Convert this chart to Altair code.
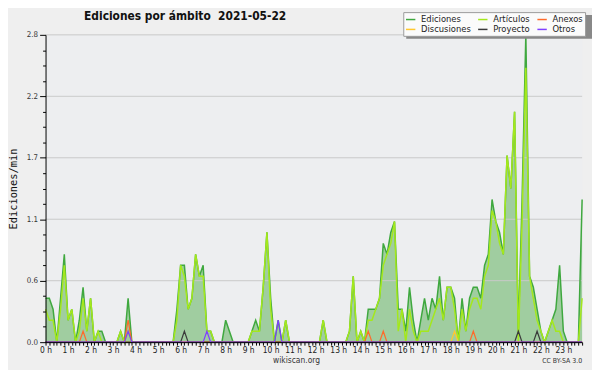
import json
import altair as alt
import pandas as pd

N = 144  # 10-minute bins, index 0..143

hour_labels = [f"{h} h" for h in range(24)]

# Ediciones por minuto (total), 10-minute bins
ediciones = [
    0.4, 0.4, 0.3, 0.0, 0.4, 0.8,   # 0 h
    0.2, 0.3, 0.0, 0.2, 0.5, 0.1,   # 1 h
    0.4, 0.0, 0.1, 0.1, 0.0, 0.0,   # 2 h
    0.0, 0.0, 0.1, 0.0, 0.4, 0.0,   # 3 h
    0.0, 0.0, 0.0, 0.0, 0.0, 0.0,   # 4 h
    0.0, 0.0, 0.0, 0.0, 0.0, 0.3,   # 5 h
    0.7, 0.7, 0.3, 0.4, 0.8, 0.6,   # 6 h
    0.7, 0.1, 0.1, 0.0, 0.0, 0.0,   # 7 h
    0.2, 0.1, 0.0, 0.0, 0.0, 0.0,   # 8 h
    0.0, 0.1, 0.2, 0.1, 0.5, 1.0,   # 9 h
    0.4, 0.0, 0.2, 0.0, 0.2, 0.0,   # 10 h
    0.0, 0.0, 0.0, 0.0, 0.0, 0.0,   # 11 h
    0.0, 0.0, 0.2, 0.0, 0.0, 0.0,   # 12 h
    0.0, 0.0, 0.0, 0.1, 0.6, 0.0,   # 13 h
    0.1, 0.0, 0.3, 0.3, 0.3, 0.4,   # 14 h
    0.9, 0.8, 1.0, 1.1, 0.3, 0.3,   # 15 h
    0.1, 0.5, 0.2, 0.0, 0.2, 0.4,   # 16 h
    0.2, 0.4, 0.3, 0.6, 0.2, 0.5,   # 17 h
    0.5, 0.4, 0.0, 0.4, 0.1, 0.4,   # 18 h
    0.5, 0.5, 0.4, 0.7, 0.8, 1.3,   # 19 h
    1.1, 1.0, 0.8, 1.7, 1.4, 2.1,   # 20 h
    0.1, 1.3, 2.8, 0.6, 0.5, 0.3,   # 21 h
    0.1, 0.0, 0.1, 0.2, 0.3, 0.7,   # 22 h
    0.1, 0.0, 0.0, 0.0, 0.0, 1.3,   # 23 h
]

articulos = [
    0.3, 0.2, 0.2, 0.0, 0.3, 0.7,
    0.2, 0.3, 0.0, 0.1, 0.4, 0.1,
    0.4, 0.0, 0.1, 0.0, 0.0, 0.0,
    0.0, 0.0, 0.1, 0.0, 0.1, 0.0,
    0.0, 0.0, 0.0, 0.0, 0.0, 0.0,
    0.0, 0.0, 0.0, 0.0, 0.0, 0.2,
    0.7, 0.6, 0.3, 0.4, 0.8, 0.6,
    0.6, 0.1, 0.1, 0.0, 0.0, 0.0,
    0.0, 0.0, 0.0, 0.0, 0.0, 0.0,
    0.0, 0.1, 0.1, 0.1, 0.5, 1.0,
    0.3, 0.0, 0.0, 0.0, 0.2, 0.0,
    0.0, 0.0, 0.0, 0.0, 0.0, 0.0,
    0.0, 0.0, 0.2, 0.0, 0.0, 0.0,
    0.0, 0.0, 0.0, 0.1, 0.6, 0.0,
    0.1, 0.0, 0.2, 0.2, 0.3, 0.4,
    0.7, 0.8, 0.9, 1.1, 0.1, 0.3,
    0.0, 0.3, 0.1, 0.0, 0.1, 0.1,
    0.1, 0.2, 0.3, 0.4, 0.2, 0.5,
    0.5, 0.3, 0.0, 0.3, 0.1, 0.3,
    0.4, 0.4, 0.3, 0.6, 0.7, 1.2,
    1.1, 0.9, 0.8, 1.7, 1.4, 2.1,
    0.0, 1.1, 2.5, 0.6, 0.4, 0.2,
    0.1, 0.0, 0.1, 0.2, 0.1, 0.1,
    0.0, 0.0, 0.0, 0.0, 0.0, 0.4,
]

# sparse series: {bin index: value}
anexos = {10: 0.1, 22: 0.2, 86: 0.1, 90: 0.1, 114: 0.1}
discusiones = {109: 0.1}
proyecto = {37: 0.1, 126: 0.1, 131: 0.1}
otros = {22: 0.1, 43: 0.1, 62: 0.2}

# legend order (filled column by column: 2 rows x 3 columns)
series_names = ["Ediciones", "Discusiones", "Artículos", "Proyecto", "Anexos", "Otros"]
series_colors = ["#3fa83f", "#ffc830", "#a4e81c", "#3a3a3a", "#ff6a2a", "#8040ff"]

title_text = "Ediciones por ámbito\u00a0 2021-05-22"

y_major = [0.0, 0.56, 1.12, 1.68, 2.24, 2.8]
y_minor = [0.14, 0.28, 0.42, 0.70, 0.84, 0.98, 1.26, 1.40, 1.54,
           1.82, 1.96, 2.10, 2.38, 2.52, 2.66]


def expand(d):
    return [d.get(i, 0.0) for i in range(N)]


df = pd.DataFrame({
    "i": list(range(N)),
    "ed": ediciones,
    "art": articulos,
    "anx": expand(anexos),
    "dis": expand(discusiones),
    "pro": expand(proyecto),
    "otr": expand(otros),
})

COND = "DejaVu Sans Condensed, DejaVu Sans, sans-serif"
W, H = 543, 311

xscale = alt.Scale(domain=[0, N - 1], nice=False, zero=False)
yscale = alt.Scale(domain=[0, 2.8], nice=False, zero=True)
color_scale = alt.Scale(domain=series_names, range=series_colors)

label_js = json.dumps(hour_labels)
x_axis = alt.Axis(
    values=list(range(N)),
    labelExpr=f"datum.value % 6 == 0 ? {label_js}[datum.value / 6] : ''",
    title=None, grid=False, tickSize=3, tickColor="#000", domainColor="#000",
    labelFont=COND, labelFontSize=8.5, labelColor="#222", labelPadding=0,
    labelOverlap=False, labelFlush=False, labelBound=False, zindex=1,
)

y_axis_major = alt.Axis(
    values=y_major, labelExpr="format(datum.value, '.1f')", orient="left",
    grid=False, tickSize=6, tickColor="#000", domainColor="#000",
    labelFont=COND, labelFontSize=8, labelColor="#333", labelPadding=2,
    labelOverlap=False, zindex=1,
    title="Ediciones/min", titleFont="DejaVu Sans Mono", titleFontSize=10.5,
    titleFontWeight="normal", titleColor="#111", titleX=-27, titleY=H / 2,
    titleAlign="center", titleBaseline="bottom",
)
y_axis_minor = alt.Axis(
    values=y_minor, orient="left", labels=False, grid=False, domain=False,
    tickSize=3, tickColor="#000", title=None, zindex=1,
)

legend = alt.Legend(
    title=None, orient="none", legendX=362, legendY=-23, columns=3,
    symbolType="stroke", symbolSize=90, symbolStrokeWidth=1.5,
    labelFont="DejaVu Sans", labelFontSize=8.5, labelColor="#222",
    labelOffset=5, columnPadding=3, rowPadding=0, padding=2,
    fillColor="#fbfbfb", strokeColor="#9a9a9a",
)

base = alt.Chart(df)
X = alt.X("i:Q", scale=xscale, axis=x_axis)

area = base.mark_area(color="#a0cda0", interpolate="linear").encode(
    x=X,
    y=alt.Y("ed:Q", scale=yscale, axis=y_axis_major),
)

grid = alt.Chart(pd.DataFrame({"g": y_major[1:]})).mark_rule(
    color="#c9c9c9", strokeWidth=1
).encode(y=alt.Y("g:Q", scale=yscale, axis=None))


def line(col, name, width, yaxis=None):
    return base.transform_calculate(serie=f"'{name}'").mark_line(
        strokeWidth=width, interpolate="linear"
    ).encode(
        x=X,
        y=alt.Y(f"{col}:Q", scale=yscale, axis=yaxis),
        color=alt.Color("serie:N", scale=color_scale, legend=legend),
    )


ed_line = line("ed", "Ediciones", 1.5, y_axis_minor)
art_line = line("art", "Artículos", 1.5)
dis_line = line("dis", "Discusiones", 1.2)
anx_line = line("anx", "Anexos", 1.2)
pro_line = line("pro", "Proyecto", 1.2)
otr_line = line("otr", "Otros", 1.2)

one = pd.DataFrame({"a": [0]})
shadow = alt.Chart(one).mark_rect(color="#888888").encode(
    x=alt.value(365), x2=alt.value(554), y=alt.value(-20), y2=alt.value(4)
)
title = alt.Chart(one).mark_text(
    text=title_text, font=COND, fontSize=12, fontWeight="bold", color="#111",
    align="left", baseline="alphabetic",
).encode(x=alt.value(39), y=alt.value(-15))
site = alt.Chart(one).mark_text(
    text="wikiscan.org", font=COND, fontSize=8.5, color="#333",
    align="center", baseline="alphabetic",
).encode(x=alt.value(254), y=alt.value(332.5))
lic = alt.Chart(one).mark_text(
    text="CC BY-SA 3.0", font=COND, fontSize=7, color="#333",
    align="right", baseline="alphabetic",
).encode(x=alt.value(W), y=alt.value(332))

chart = alt.layer(
    area, grid, ed_line, art_line, dis_line, anx_line, pro_line, otr_line,
    shadow, title, site, lic,
).resolve_axis(y="independent").properties(
    width=W, height=H,
    autosize=alt.AutoSizeParams(type="none"),
    padding={"left": 38, "top": 25, "right": 10, "bottom": 26},
    background="#efefef",
).configure_view(fill="#edeef0", strokeWidth=0)

chart.save("out.html", embed_options={"renderer": "svg", "actions": False})
